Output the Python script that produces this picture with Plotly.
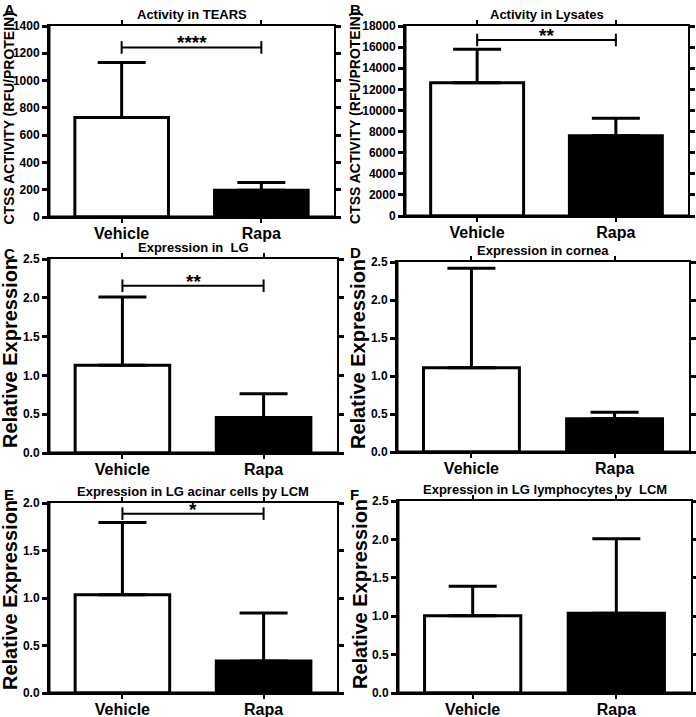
import plotly.graph_objects as go

W, H = 696, 717
FONT = "Liberation Sans, Arial, sans-serif"

groups = ["Vehicle", "Rapa"]
letters = ["A", "B", "C", "D", "E", "F"]
titles = [
    "Activity in TEARS",
    "Activity in Lysates",
    "Expression in  LG",
    "Expression in cornea",
    "Expression in LG acinar cells by LCM",
    "Expression in LG lymphocytes by  LCM",
]
ytitles = ["CTSS ACTIVITY (RFU/PROTEIN)"] * 2 + ["Relative Expression"] * 4

# mean values (Vehicle, Rapa) and upper SD
mean_A = [729, 196]
sd_A = [404, 56]
mean_B = [12630, 7610]
sd_B = [3160, 1640]
mean_C = [1.13, 0.457]
sd_C = [0.88, 0.306]
mean_D = [1.11, 0.439]
sd_D = [1.307, 0.083]
mean_E = [1.035, 0.337]
sd_E = [0.761, 0.505]
mean_F = [1.007, 1.037]
sd_F = [0.382, 0.973]

means = [mean_A, mean_B, mean_C, mean_D, mean_E, mean_F]
sds = [sd_A, sd_B, sd_C, sd_D, sd_E, sd_F]

# significance brackets (height, label); None = no bracket
sig_height = [1243, 16674, 2.155, None, 1.888, None]
sig_label = ["****", "**", "**", "", "*", ""]

# y axis ranges and tick steps
y_max = [1400, 18000, 2.5, 2.5, 2.0, 2.5]
y_step = [200, 2000, 0.5, 0.5, 0.5, 0.5]
y_fmt = ["d", "d", ".1f", ".1f", ".1f", ".1f"]

# plot-area pixel boxes (left, right, top, bottom)
boxes = [
    (49, 334, 26, 217),
    (405, 688, 26, 216),
    (49, 337, 259, 453),
    (397, 689, 262, 452),
    (49, 337, 503, 693),
    (398, 691, 501, 693),
]
ytitle_x = [8, 355, 10, 358, 10, 360]
letter_pos = [(2, -1), (348, -1), (2, 243), (348, 242), (2, 484), (348, 484)]

fig = go.Figure()
layout = dict(
    width=W, height=H,
    margin=dict(l=0, r=0, t=0, b=0),
    paper_bgcolor="white", plot_bgcolor="white",
    showlegend=False,
    font=dict(family=FONT, color="black"),
)
annotations = []
shapes = []

for i in range(6):
    n = "" if i == 0 else str(i + 1)
    xa, ya = "x" + n, "y" + n
    l, r, t, b = boxes[i]
    xdom = [l / W, r / W]
    ydom = [1 - b / H, 1 - t / H]

    fig.add_trace(go.Bar(
        x=groups, y=means[i], xaxis=xa, yaxis=ya,
        width=0.67,
        marker=dict(color=["white", "black"], line=dict(color="black", width=3)),
        error_y=dict(type="data", symmetric=False, array=sds[i], arrayminus=[0, 0],
                     color="black", thickness=3, width=24),
    ))

    if sig_height[i] is not None:
        h = sig_height[i]
        fig.add_trace(go.Scatter(
            x=groups, y=[h, h], xaxis=xa, yaxis=ya, mode="lines+markers",
            line=dict(color="black", width=2),
            marker=dict(symbol="line-ns-open", size=9, color="black",
                        line=dict(color="black", width=2)),
            hoverinfo="skip",
        ))
        annotations.append(dict(
            x=0.5, y=h, xref=xa, yref=ya, text=sig_label[i], showarrow=False,
            xanchor="center", yanchor="bottom", yshift=-8,
            font=dict(family=FONT, size=19, color="black", weight="bold"),
        ))

    layout["xaxis" + n] = dict(
        domain=xdom, anchor=ya, type="category", range=[-0.52, 1.52],
        automargin=False,
        showline=True, linewidth=2, linecolor="black", mirror="ticks",
        ticks="outside", ticklen=4, tickwidth=2, tickcolor="black",
        ticklabelstandoff=-3,
        showgrid=False, zeroline=False, fixedrange=True,
        tickfont=dict(family=FONT, size=16, color="black", weight="bold"),
    )
    layout["yaxis" + n] = dict(
        domain=ydom, anchor=xa, range=[0, y_max[i]], dtick=y_step[i], tick0=0,
        tickformat=y_fmt[i], automargin=False,
        showline=True, linewidth=2, linecolor="black", mirror="ticks",
        ticks="outside", ticklen=5, tickwidth=2.5, tickcolor="black",
        showgrid=False, zeroline=False, fixedrange=True,
        tickfont=dict(family=FONT, size=12, color="black", weight="bold"),
    )

    # thicker left / bottom axis lines
    shapes.append(dict(type="line", xref=xa + " domain", yref=ya + " domain",
                       x0=0, x1=0, y0=0, y1=1, line=dict(color="black", width=3)))
    shapes.append(dict(type="line", xref=xa + " domain", yref=ya + " domain",
                       x0=0, x1=1, y0=0, y1=0, line=dict(color="black", width=3)))

    # panel title
    annotations.append(dict(
        x=(l + r) / 2 / W, y=1 - t / H, xref="paper", yref="paper",
        text=titles[i], showarrow=False, xanchor="center", yanchor="bottom", yshift=2,
        font=dict(family=FONT, size=13, color="black", weight="bold"),
    ))
    # y title
    big = i >= 2
    annotations.append(dict(
        x=ytitle_x[i] / W, y=1 - ((t + b) / 2 - 3) / H, xref="paper", yref="paper",
        text=ytitles[i], showarrow=False, textangle=-90,
        xanchor="center", yanchor="middle",
        font=dict(family=FONT, size=20 if big else 14, color="black", weight="bold"),
    ))
    # panel letter
    lx, ly = letter_pos[i]
    annotations.append(dict(
        x=lx / W, y=1 - ly / H,
        xref="paper", yref="paper", text=letters[i], showarrow=False,
        xanchor="left", yanchor="top",
        font=dict(family=FONT, size=15, color="black", weight="bold"),
    ))

layout["annotations"] = annotations
layout["shapes"] = shapes
fig.update_layout(**layout)
fig.write_html(
    "out.html",
    config={"displayModeBar": False},
    post_script="document.body.style.margin='0';document.body.style.overflow='hidden';",
)
